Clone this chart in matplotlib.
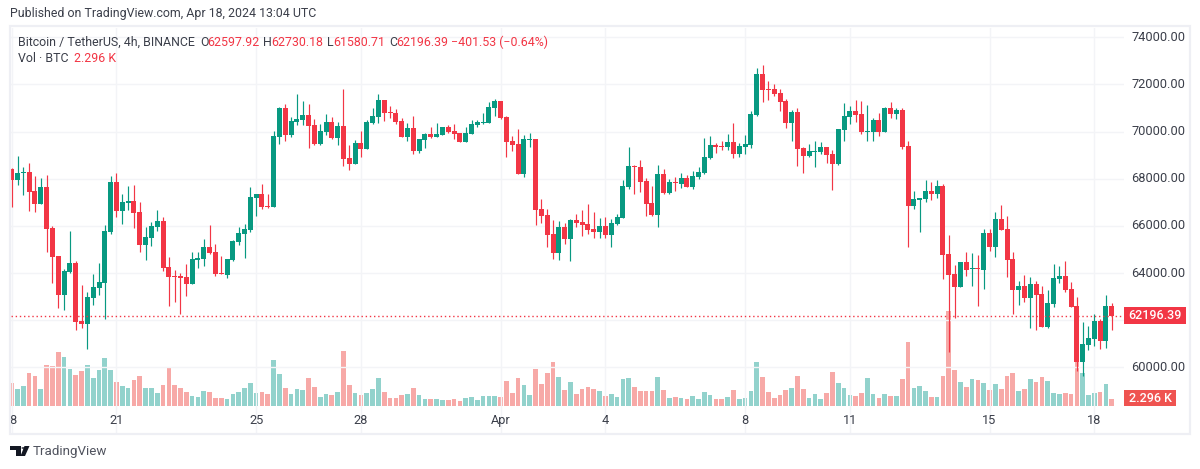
import numpy as np
import matplotlib
matplotlib.use('Agg')
import matplotlib.pyplot as plt
from matplotlib.patches import Rectangle, Polygon, Circle

plt.rcParams['font.family'] = ['Roboto', 'DejaVu Sans']

# 4h candles
opens = [68395, 67930, 68226, 68268, 67464, 66914, 67633, 65899, 64715, 63065,
         64038, 64419, 61965, 61838, 62938, 63361, 63573, 65730, 67845, 66618,
         66957, 67041, 66576, 65180, 65476, 65941, 66195, 64249, 63869, 63869,
         63826, 63530, 64546, 64588, 65095, 64884, 63996, 63911, 64546, 65307,
         65645, 65815, 67168, 67337, 66830, 66788, 69759, 70990, 69844, 70396,
         70481, 70693, 70269, 69462, 69972, 70396, 69717, 70226, 68868, 68613,
         69505, 69250, 70354, 70608, 71330, 70821, 70778, 70439, 69759, 70141,
         69165, 69632, 69887, 69759, 69844, 70184, 70014, 69929, 69547, 69887,
         70269, 70354, 70354, 70990, 71288, 70608, 69590, 69462, 68189, 69632,
         69675, 66703, 66448, 65642, 64835, 65939, 65430, 66236, 66151, 66066,
         65854, 65727, 65981, 65599, 66066, 66321, 67637, 68528, 68486, 67892,
         66958, 66448, 68189, 67382, 67849, 67764, 68019, 67637, 68061, 68231,
         68868, 69420, 69377, 69335, 69547, 69038, 69335, 69420, 70693, 72434,
         71797, 71797, 71627, 71288, 70354, 70821, 69293, 68953, 69123, 69123,
         69335, 69038, 68613, 70057, 70608, 70863, 70736, 69972, 69972, 70481,
         69972, 70991, 70736, 70906, 69377, 66830, 67085, 67128, 67467, 67340,
         67679, 64793, 63944, 63392, 64453, 64156, 64199, 64114, 65684, 65090,
         66279, 65854, 64581, 63265, 63434, 62925, 63519, 63095, 61736, 62670,
         63732, 63859, 63307, 62585, 60251, 60972, 61227, 61991, 61142, 62597.92]

highs = [68437, 68945, 68479, 68649, 68099, 68014, 68141, 65984, 64715, 64165,
         65772, 64503, 63488, 63192, 63953, 64419, 66026, 68099, 68226, 67337,
         67676, 67718, 66999, 65941, 66153, 66660, 66364, 64672, 64122, 63996,
         64376, 64884, 64884, 65434, 66026, 65222, 64715, 64588, 65392, 65941,
         66068, 67633, 67337, 67760, 67337, 70014, 71033, 71160, 70608, 71585,
         71288, 71160, 70524, 70311, 70736, 70608, 70396, 71797, 69420, 69632,
         70014, 70481, 70990, 71585, 71330, 71075, 70948, 70566, 70354, 70651,
         69675, 69929, 70184, 70354, 70184, 70269, 70311, 69929, 70184, 70481,
         70481, 70778, 71245, 71373, 71288, 70651, 69802, 70099, 69844, 69929,
         69675, 67127, 66703, 66236, 66194, 66109, 66279, 66491, 66661, 66915,
         66576, 66321, 66363, 66279, 66491, 67934, 69335, 68571, 68783, 68019,
         67679, 68571, 68401, 67977, 68061, 68231, 68146, 68316, 68486, 69717,
         69802, 69505, 69590, 69887, 70354, 69505, 69844, 70863, 72689, 72816,
         72137, 72009, 71797, 71373, 70906, 70991, 69335, 69462, 69590, 69547,
         69335, 69208, 70099, 71203, 71075, 71330, 71288, 71118, 70566, 70778,
         71033, 71245, 70991, 70991, 69590, 67467, 67170, 67934, 67849, 67934,
         67764, 65599, 64326, 64453, 64878, 64835, 64750, 65854, 65854, 66576,
         66873, 66406, 64878, 63647, 63901, 63817, 63647, 63434, 63265, 64368,
         64283, 64496, 63604, 62967, 61949, 61779, 62246, 62076, 63052, 62730.18]

lows = [66787, 67718, 67295, 66618, 66576, 66914, 64884, 63573, 62515, 62430,
        63996, 61585, 61669, 60781, 62642, 63065, 62050, 65645, 66364, 66068,
        66660, 65899, 64884, 64546, 65138, 65772, 64080, 62600, 62769, 62261,
        63023, 63530, 64207, 64292, 64799, 63869, 63953, 63784, 64503, 65180,
        64630, 65730, 66407, 66703, 66745, 66788, 69462, 69590, 69759, 70269,
        70269, 69292, 69420, 69420, 69844, 69675, 69420, 68528, 68359, 68613,
        68910, 69250, 70311, 70354, 70439, 70566, 70311, 69759, 69590, 69038,
        69080, 69292, 69717, 69759, 69844, 69929, 69675, 69547, 69547, 69887,
        70184, 70311, 70354, 70651, 70524, 68910, 69165, 68189, 68061, 69335,
        66024, 66109, 65090, 64580, 64538, 65217, 64496, 65939, 65557, 65642,
        65472, 65472, 65472, 65090, 66024, 66321, 67552, 67340, 67425, 66406,
        66406, 65939, 67340, 67340, 67467, 67595, 67637, 67552, 67977, 68189,
        68826, 69080, 69208, 69208, 68868, 68910, 69038, 69293, 70651, 71245,
        71330, 71500, 70863, 70141, 69590, 68528, 68231, 68910, 68486, 69038,
        68656, 67510, 68571, 69590, 70311, 70396, 69887, 69590, 69590, 69802,
        69972, 70566, 70524, 69250, 65090, 66703, 65727, 67000, 67085, 67170,
        63732, 60675, 62118, 63392, 63859, 63434, 62585, 63307, 64920, 64665,
        65812, 63817, 62288, 62628, 62755, 61694, 61609, 61736, 61694, 62543,
        63562, 63180, 62543, 59869, 59656, 60760, 60930, 60802, 60845, 61580.71]

closes = [67930, 68226, 68268, 67422, 66914, 67633, 65857, 64672, 63065, 64080,
          64419, 61923, 61838, 62980, 63403, 63615, 65772, 67845, 66618, 66999,
          67041, 66534, 65180, 65518, 65984, 66195, 64207, 63826, 63826, 63784,
          63530, 64588, 64630, 65095, 64842, 63953, 63953, 64588, 65349, 65688,
          65857, 67210, 67337, 66787, 66787, 69802, 70990, 69844, 70439, 70524,
          70693, 70226, 69462, 70014, 70396, 69717, 70226, 68826, 68613, 69505,
          69250, 70396, 70651, 71330, 70778, 70778, 70396, 69759, 70141, 69165,
          69675, 69887, 69759, 69887, 70184, 69972, 69887, 69547, 69929, 70311,
          70396, 70396, 71033, 71288, 70566, 69547, 69420, 68189, 69675, 69675,
          66661, 66406, 65599, 64835, 65939, 65430, 66236, 66109, 66024, 65812,
          65727, 65981, 65599, 66109, 66363, 67679, 68528, 68486, 67849, 66915,
          66448, 68189, 67382, 67849, 67807, 68019, 67637, 68104, 68274, 68910,
          69420, 69335, 69335, 69547, 69038, 69377, 69462, 70736, 72434, 71755,
          71755, 71585, 71245, 70354, 70821, 69250, 68953, 69165, 69165, 69335,
          68995, 68613, 70099, 70651, 70863, 70693, 69972, 70014, 70481, 69972,
          70991, 70736, 70906, 69335, 66830, 67128, 67170, 67467, 67340, 67679,
          64750, 63901, 63392, 64453, 64114, 64199, 64156, 65684, 65090, 66279,
          65812, 64538, 63265, 63434, 62925, 63519, 63052, 61736, 62713, 63774,
          63859, 63265, 62543, 60251, 61015, 61270, 61991, 61142, 62585, 62196.39]

# volume in thousands of BTC
volumes = [7.54, 5.57, 6.56, 10.82, 9.84, 5.57, 13.44, 13.12, 17.71, 16.07,
           12.13, 10.16, 11.48, 13.44, 9.18, 11.80, 15.74, 11.80, 7.87, 6.56,
           5.90, 8.53, 9.84, 5.90, 5.90, 4.26, 6.89, 12.79, 6.89, 5.90,
           4.59, 3.28, 2.95, 4.92, 4.59, 2.62, 2.62, 2.30, 3.93, 4.59,
           5.90, 7.54, 4.26, 4.59, 3.93, 15.08, 10.49, 5.90, 3.93, 5.57,
           5.25, 9.18, 6.23, 2.95, 3.93, 3.61, 4.59, 18.03, 6.89, 4.26,
           3.61, 4.26, 5.57, 9.18, 4.59, 2.62, 2.62, 3.61, 3.93, 5.90,
           3.61, 2.30, 2.30, 2.30, 1.97, 1.97, 2.30, 1.64, 2.62, 2.95,
           1.97, 3.28, 3.28, 3.28, 2.95, 8.20, 4.26, 9.18, 6.89, 3.61,
           12.13, 7.21, 10.82, 14.43, 9.51, 5.25, 7.87, 3.93, 5.57, 6.23,
           5.57, 4.92, 3.28, 3.93, 2.95, 8.85, 9.18, 6.23, 4.92, 4.92,
           4.92, 9.51, 5.25, 2.62, 2.95, 2.62, 2.30, 3.28, 2.30, 4.59,
           3.61, 2.30, 2.30, 2.95, 5.25, 2.30, 2.62, 4.92, 14.43, 9.51,
           4.59, 2.62, 3.61, 5.25, 5.90, 9.84, 5.57, 2.62, 3.93, 2.30,
           4.26, 11.15, 7.54, 5.90, 3.61, 3.28, 4.26, 9.18, 3.93, 2.62,
           3.93, 3.28, 3.28, 8.85, 20.99, 5.90, 6.56, 4.92, 2.95, 2.95,
           9.84, 31.15, 11.80, 7.87, 6.23, 8.85, 8.53, 7.54, 5.25, 7.21,
           5.57, 9.84, 10.82, 4.92, 5.57, 8.85, 7.87, 9.51, 8.20, 4.26,
           3.93, 4.26, 3.93, 14.76, 10.82, 3.61, 4.26, 4.59, 7.21, 2.296]

price_ticks = [60000, 62000, 64000, 66000, 68000, 70000, 72000, 74000]
date_ticks = [0, 18, 42, 60, 84, 102, 126, 144, 168, 186]
date_labels = ['8', '21', '25', '28', 'Apr', '4', '8', '11', '15', '18']
last_price = 62196.39

GREEN = '#089981'
RED = '#f23645'
VOL_GREEN = '#92d2cc'
VOL_RED = '#f7a9a7'
GRID = '#f3f4f7'
BORDER = '#eeeff4'
TEXT = '#3b3f4a'

W, H = 1200, 469


def fx(px):
    return px / W


def fy(py):
    return 1 - py / H


def pixel_axes(left, top, right, bottom):
    return fig.add_axes([fx(left), fy(bottom), (right - left) / W, (bottom - top) / H])


fig = plt.figure(figsize=(12, 4.69), dpi=100, facecolor='white')

x = np.arange(len(opens))
o = np.array(opens)
c = np.array(closes)
up = c >= o

xlim = (-0.12, 191.1)

# volume goes in its own axes, under the candles
ax_vol = pixel_axes(11, 300, 1124, 406)
ax_vol.set_xlim(xlim)
ax_vol.set_ylim(0, 106 / 3.05)
ax_vol.bar(x, volumes, width=0.8, color=[VOL_GREEN if u else VOL_RED for u in up], linewidth=0)
ax_vol.axis('off')
ax_vol.set_zorder(2)

ax = pixel_axes(11, 28, 1124, 434)
ax.set_xlim(xlim)
ax.set_ylim(57182, 74386)
ax.patch.set_alpha(0)
ax.set_zorder(3)
for s in ax.spines.values():
    s.set_visible(False)
ax.tick_params(left=False, bottom=False, labelleft=False, labelbottom=False)

for p in price_ticks:
    ax.axhline(p, color=GRID, lw=1, zorder=0)
for d in date_ticks:
    ax.axvline(d, color=GRID, lw=1, zorder=0)

colors = [GREEN if u else RED for u in up]
ax.vlines(x, lows, highs, colors=colors, lw=0.85, zorder=3)
ax.bar(x, c - o, bottom=o, width=0.86, color=colors, linewidth=0, zorder=4)

ax.axhline(last_price, color=RED, lw=1, ls=(0, (1, 2)), zorder=5)

# outer frame
frame = Rectangle((fx(10), fy(434)), (1190 - 10) / W, (434 - 26.5) / H, transform=fig.transFigure,
                  fill=False, ec=BORDER, lw=1.6, zorder=10)
fig.add_artist(frame)

for p in price_ticks:
    # the 62000 label sits behind the last price flag
    if p == 62000:
        continue
    ypix = ax.transData.transform((0, p))[1]
    fig.text(fx(1131), ypix / H, f'{p:.2f}', fontsize=9.2, color=TEXT, va='center', ha='left')

for d, lab in zip(date_ticks, date_labels):
    xpix = ax.transData.transform((d, 0))[0]
    if d == 0:
        xpix = 13
    fig.text(xpix / W, fy(420), lab, fontsize=9.2, color=TEXT, va='center', ha='center')

# last price and volume flags
fig.add_artist(Rectangle((fx(1124), fy(324)), 62 / W, 17 / H, transform=fig.transFigure, fc=RED, ec='none', zorder=11))
fig.text(fx(1155), fy(315.5), '62196.39', fontsize=9, color='white', weight='medium', va='center', ha='center', zorder=12)
fig.add_artist(Rectangle((fx(1124), fy(406)), 52 / W, 16 / H, transform=fig.transFigure, fc='#ef5350', ec='none', zorder=11))
fig.text(fx(1150), fy(398), '2.296 K', fontsize=9, color='white', weight='medium', va='center', ha='center', zorder=12)

# header and legend lines
fig.text(fx(10), fy(14), 'Published on TradingView.com, Apr 18, 2024 13:04 UTC', fontsize=8.9, color=TEXT, va='center')
fig.text(fx(18), fy(42), 'Bitcoin / TetherUS, 4h, BINANCE', fontsize=8.9, color=TEXT, va='center')
for px, lab, col in [(200, 'O', TEXT), (207, '62597.92', RED), (263, 'H', TEXT), (271, '62730.18', RED),
                     (327, 'L', TEXT), (333, '61580.71', RED), (389, 'C', TEXT), (396, '62196.39', RED),
                     (451, '\u2212401.53 (\u22120.64%)', RED)]:
    fig.text(fx(px), fy(42), lab, fontsize=8.9, color=col, va='center')
fig.text(fx(18), fy(59), 'Vol \u00b7 BTC', fontsize=8.9, color=TEXT, va='center')
fig.text(fx(74), fy(59), '2.296 K', fontsize=8.9, color=RED, va='center')

# TradingView logo, rough shapes
logo = '#131722'
fig.add_artist(Polygon([(fx(10), fy(446)), (fx(21), fy(446)), (fx(21), fy(456)), (fx(15.5), fy(456)),
                        (fx(15.5), fy(450)), (fx(10), fy(450))], transform=fig.transFigure, fc=logo, ec='none'))
fig.add_artist(Polygon([(fx(24.5), fy(446)), (fx(29.5), fy(446)), (fx(25), fy(456)), (fx(20.5), fy(456))],
                       transform=fig.transFigure, fc=logo, ec='none'))
fig.add_artist(Circle((fx(23.3), fy(448)), 1.9 / W, transform=fig.transFigure, fc=logo, ec='none'))
fig.text(fx(33), fy(451), 'TradingView', fontsize=9.6, color='#50535e', va='center')

fig.savefig('out.png', dpi=100)
